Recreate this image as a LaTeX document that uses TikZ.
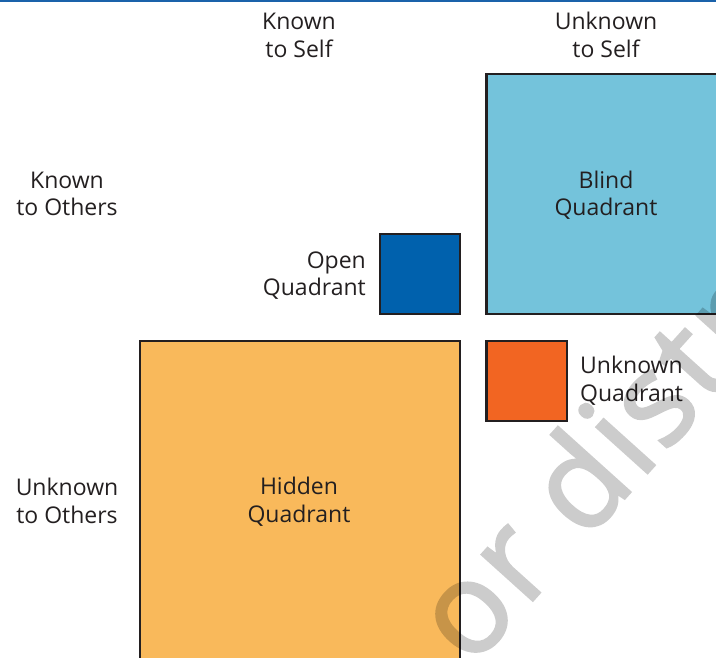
\documentclass[tikz,border=0pt]{standalone}
\usepackage{fontspec}
\setmainfont{Open Sans}
\newfontfamily\markfont[FakeBold=2, LetterSpace=3]{Open Sans}
\definecolor{ink}{HTML}{231F20}
\definecolor{rule}{HTML}{1A62AA}
\definecolor{blindfill}{HTML}{74C3DB}
\definecolor{openfill}{HTML}{0061AD}
\definecolor{unknownfill}{HTML}{F26522}
\definecolor{hiddenfill}{HTML}{F9B95B}
\tikzset{
  quad/.style={draw=ink, line width=2.6pt},
  lbl/.style={font=\fontsize{23}{28}\selectfont, text=ink, inner sep=0pt, anchor=base}
}
\begin{document}
\begin{tikzpicture}[x=1pt, y=-1pt]
  \useasboundingbox (0,0) rectangle (716,658);
  \begin{scope}
    \clip (0,0) rectangle (716,658);
    % rule along the top edge
    \draw[rule, line width=2pt] (0,1) -- (716,1);
    % the four quadrants
    \path[quad, fill=blindfill]   (486.5,74)  rectangle (730,314);
    \path[quad, fill=openfill]    (380,234)   rectangle (460,314);
    \path[quad, fill=unknownfill] (486.5,341) rectangle (567,421);
    \path[quad, fill=hiddenfill]  (140,341)   rectangle (460,680);
    % column headings (base anchor sits on the last line)
    \node[lbl, align=center] (kself) at (299,58) {Known\\to Self};
    \node[lbl, align=center] (uself) at (606,58) {Unknown\\to Self};
    % row headings
    \node[lbl, align=center] (kothers) at (67,216) {Known\\to Others};
    \node[lbl, align=center] (uothers) at (67,523) {Unknown\\to Others};
    % quadrant names
    \node[lbl, align=center] (blind) at (606,216) {Blind\\Quadrant};
    \node[lbl, align=right, anchor=base east] (open) at (366,296) {Open\\Quadrant};
    \node[lbl, align=left, anchor=base west] (unknown) at (580,401) {Unknown\\Quadrant};
    \node[lbl, align=center] (hidden) at (299,522) {Hidden\\Quadrant};
    % watermark
    \begin{scope}[transparency group, opacity=0.2]
      \node[font=\markfont\fontsize{128}{128}\selectfont, text=black,
            inner sep=0pt, anchor=base west, rotate=48] (mark) at (471,669) {or distribute};
    \end{scope}
  \end{scope}
\end{tikzpicture}
\end{document}
